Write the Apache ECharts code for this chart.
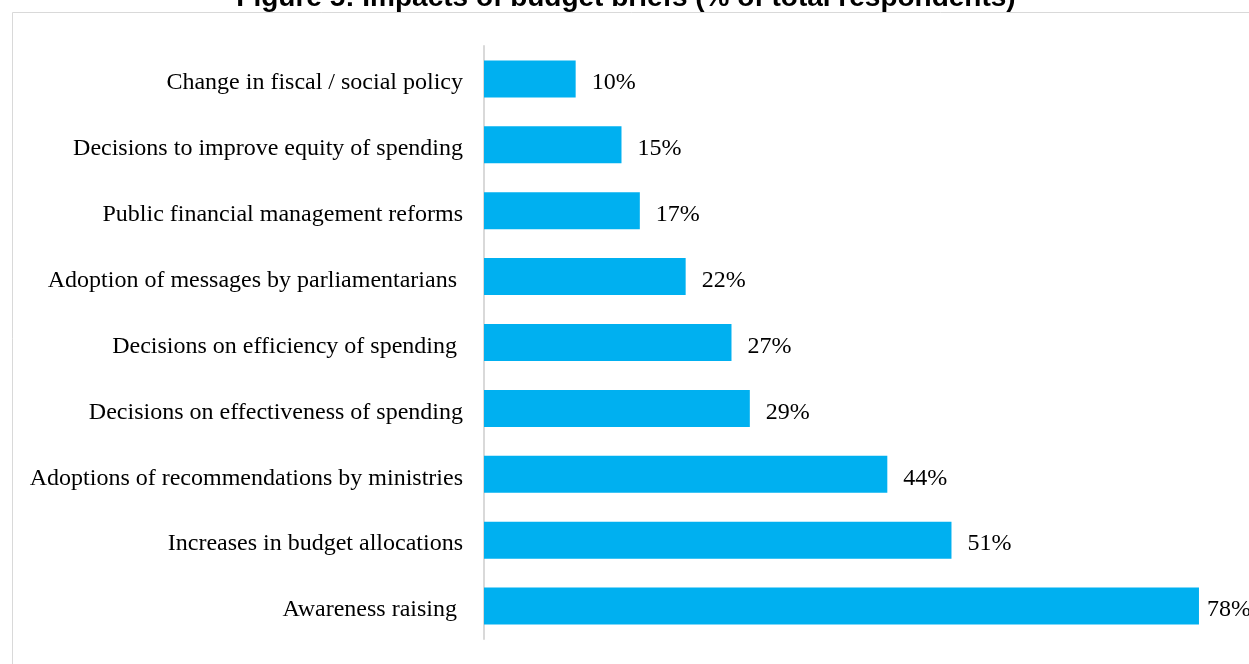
<!DOCTYPE html>
<html>
<head>
<meta charset="utf-8">
<script src="https://cdn.jsdelivr.net/npm/echarts@6/dist/echarts.min.js"></script>
<style>
  html, body { margin: 0; padding: 0; background: #ffffff; }
  #chart { width: 1249px; height: 664px; }
</style>
</head>
<body>
<div id="chart"></div>
<script>
// Impacts of budget briefs, listed top to bottom
const categories = [
  'Change in fiscal / social policy',
  'Decisions to improve equity of spending',
  'Public financial management reforms',
  'Adoption of messages by parliamentarians ',
  'Decisions on efficiency of spending ',
  'Decisions on effectiveness of spending',
  'Adoptions of recommendations by ministries',
  'Increases in budget allocations',
  'Awareness raising '
];
// Share of total respondents (%)
const shares = [10, 15, 17, 22, 27, 29, 44, 51, 78];

const titleText = 'Figure 5: Impacts of budget briefs (% of total respondents)';

const chart = echarts.init(document.getElementById('chart'), null, { renderer: 'canvas' });

const seriesData = shares.map((v, i) => {
  const item = { value: v };
  // the widest bar sits close to the edge, so its label hugs it
  if (i === shares.length - 1) item.label = { distance: 8 };
  return item;
});

const serif = '"Liberation Serif", "Times New Roman", serif';
// text sits a little below the bar centre line
const textStyle = {
  color: '#000000',
  fontFamily: serif,
  fontSize: 24,
  padding: [8, 0, 0, 0]
};

chart.setOption({
  backgroundColor: '#ffffff',
  animation: false,
  graphic: [
    {
      type: 'rect',
      shape: { x: 12.5, y: 12.5, width: 1300, height: 700 },
      style: { fill: 'none', stroke: '#d9d9d9', lineWidth: 1 },
      silent: true
    },
    {
      type: 'text',
      x: 626,
      y: 12,
      style: {
        text: titleText,
        font: 'bold 28px "Liberation Sans", Arial, sans-serif',
        fill: '#000000',
        align: 'center',
        verticalAlign: 'bottom'
      },
      silent: true
    }
  ],
  grid: { left: 484, top: 46, width: 733.3, height: 593, containLabel: false },
  xAxis: {
    type: 'value',
    min: 0,
    max: 80,
    show: false
  },
  yAxis: {
    type: 'category',
    data: categories,
    inverse: true,
    axisLine: { show: true, lineStyle: { color: '#d9d9d9', width: 2 } },
    axisTick: { show: false },
    axisLabel: {
      margin: 21,
      formatter: (v) => '{t|' + v + '}',
      rich: { t: textStyle }
    }
  },
  series: [{
    type: 'bar',
    data: seriesData,
    barWidth: 37,
    itemStyle: { color: '#00b0f0' },
    label: {
      show: true,
      position: 'right',
      distance: 16,
      formatter: '{t|{c}%}',
      rich: { t: textStyle }
    }
  }]
});
</script>
</body>
</html>
